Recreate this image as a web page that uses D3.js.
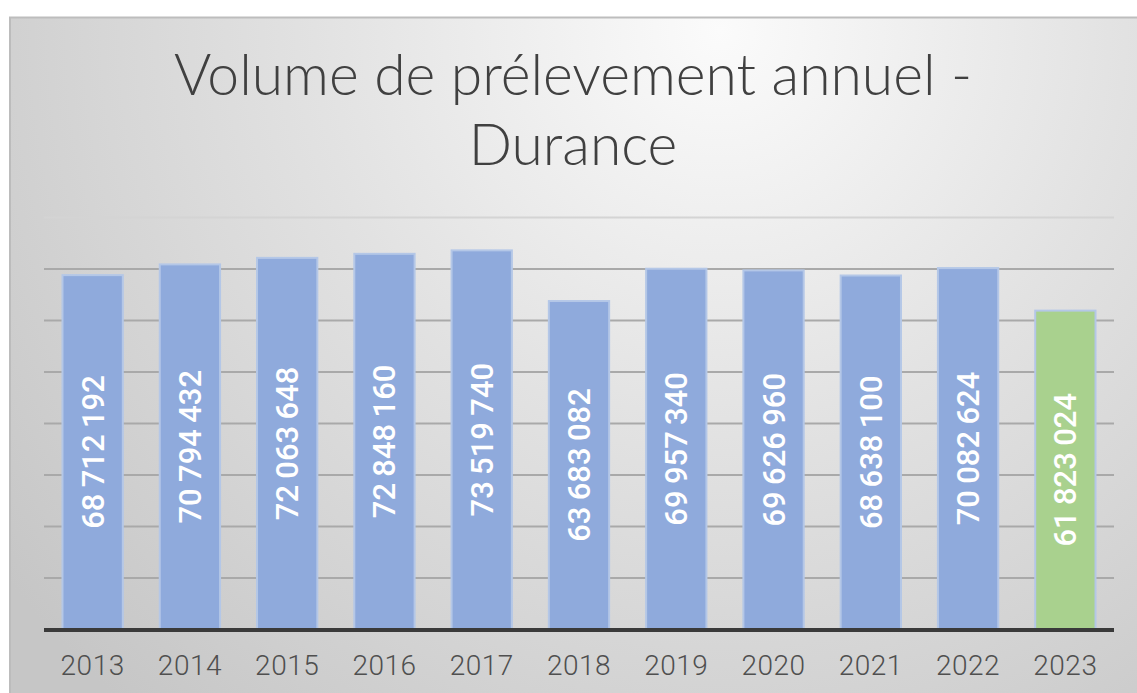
<!DOCTYPE html>
<html lang="fr">
<head>
    <meta charset="UTF-8">
    <title>Volume de prélevement annuel - Durance</title>
    <script src="https://d3js.org/d3.v7.min.js"></script>
    <style>
        body { margin: 0; background: #fff; }
        .xlab { font: 300 28px Roboto, sans-serif; fill: #4f4f4f; text-anchor: middle; letter-spacing: 0.5px; }
        .vlab { font: 500 31px Roboto, sans-serif; fill: #fff; text-anchor: middle; }
        .title { font-family: Lato, sans-serif; font-weight: 300; font-size: 57px; fill: #404040; text-anchor: middle; }
    </style>
</head>
<body>
<script>
    // données
    const years = ["2013", "2014", "2015", "2016", "2017", "2018", "2019", "2020", "2021", "2022", "2023"];
    const volumes = [68712192, 70794432, 72063648, 72848160, 73519740, 63683082, 69957340, 69626960, 68638100, 70082624, 61823024];
    const yTicks = [0, 10e6, 20e6, 30e6, 40e6, 50e6, 60e6, 70e6, 80e6];
    const titleLines = ["Volume de prélevement annuel -", "Durance"];
    const highlightYear = "2023";

    const W = 1137, H = 693;
    const plot = { left: 44, right: 1114, top: 217, bottom: 629 };

    const svg = d3.select("body").append("svg")
        .attr("width", W)
        .attr("height", H);

    // fond dégradé
    const defs = svg.append("defs");
    const grad = defs.append("radialGradient")
        .attr("id", "bg")
        .attr("gradientUnits", "userSpaceOnUse")
        .attr("cx", 720).attr("cy", 30).attr("r", 900);
    grad.append("stop").attr("offset", 0).attr("stop-color", "#fbfbfb");
    grad.append("stop").attr("offset", 0.45).attr("stop-color", "#e2e2e2");
    grad.append("stop").attr("offset", 1).attr("stop-color", "#c6c6c6");

    svg.append("rect")
        .attr("x", 9).attr("y", 17)
        .attr("width", W - 9).attr("height", H - 17)
        .attr("fill", "url(#bg)");
    svg.append("line")
        .attr("x1", 9).attr("x2", W).attr("y1", 17.5).attr("y2", 17.5)
        .attr("stroke", "#bdbdbd").attr("stroke-width", 2);
    svg.append("line")
        .attr("x1", 10).attr("x2", 10).attr("y1", 17).attr("y2", H)
        .attr("stroke", "#bcbcbc").attr("stroke-width", 2);

    const x = d3.scaleBand()
        .domain(years)
        .range([plot.left, plot.right])
        .paddingInner(0.38)
        .paddingOuter(0.19);

    const y = d3.scaleLinear()
        .domain([0, 80e6])
        .range([plot.bottom, plot.top]);

    // grille
    const grid = svg.append("g")
        .attr("transform", `translate(${plot.left},0)`)
        .call(d3.axisLeft(y).tickValues(yTicks.slice(1)).tickSize(-(plot.right - plot.left)).tickFormat(""));
    grid.select(".domain").remove();
    grid.selectAll(".tick line")
        .attr("stroke", d => d === 80e6 ? "#d4d4d4" : "#a9a9a9")
        .attr("stroke-width", 2);

    // barres
    svg.selectAll("rect.bar")
        .data(years.map((yr, i) => ({ yr, v: volumes[i] })))
        .join("rect")
        .attr("class", "bar")
        .attr("x", d => x(d.yr))
        .attr("y", d => y(d.v))
        .attr("width", x.bandwidth())
        .attr("height", d => y(0) - y(d.v))
        .attr("fill", d => d.yr === highlightYear ? "#a9d18e" : "#8faadc")
        .attr("stroke", "#b4c7e7")
        .attr("stroke-width", 2);

    // axe x
    svg.append("line")
        .attr("x1", plot.left).attr("x2", plot.right)
        .attr("y1", y(0) + 1).attr("y2", y(0) + 1)
        .attr("stroke", "#3a3a3a").attr("stroke-width", 4);

    svg.selectAll("text.xlab")
        .data(years)
        .join("text")
        .attr("class", "xlab")
        .attr("x", d => x(d) + x.bandwidth() / 2)
        .attr("y", 675)
        .text(d => d);

    // étiquettes de valeurs
    const fmt = v => d3.format(",")(v).replace(/,/g, "\u2009");
    svg.selectAll("text.vlab")
        .data(years.map((yr, i) => ({ yr, v: volumes[i] })))
        .join("text")
        .attr("class", "vlab")
        .attr("transform", d => {
            const cx = x(d.yr) + x.bandwidth() / 2;
            const cy = (y(d.v) + y(0)) / 2;
            return `translate(${cx + 11},${cy}) rotate(-90)`;
        })
        .text(d => fmt(d.v));

    // titre
    svg.selectAll("text.title")
        .data(titleLines)
        .join("text")
        .attr("class", "title")
        .attr("x", 573)
        .attr("y", (d, i) => 95 + i * 70)
        .text(d => d);
</script>
</body>
</html>
